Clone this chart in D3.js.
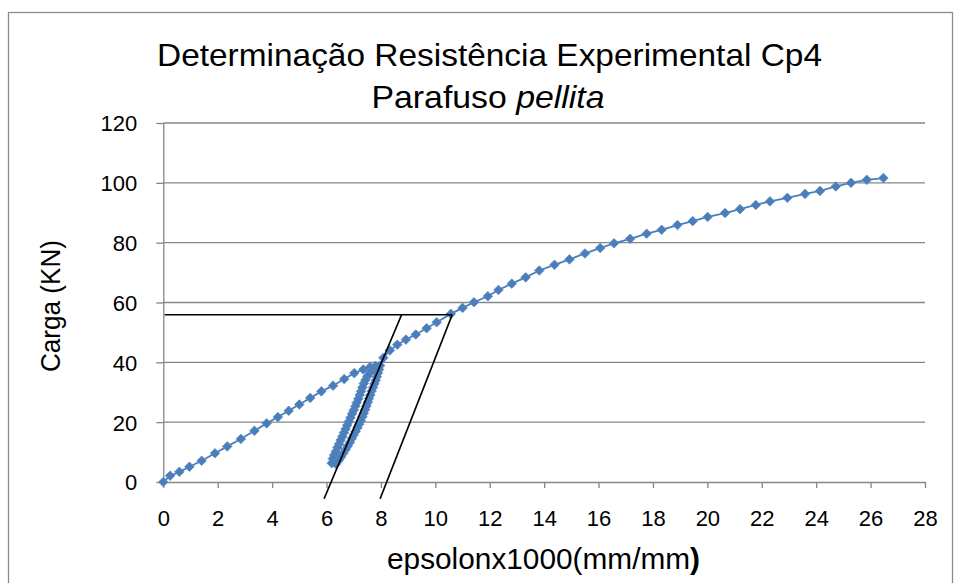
<!DOCTYPE html>
<html>
<head>
<meta charset="utf-8">
<script src="https://cdn.jsdelivr.net/npm/d3@7"></script>
<style>
  html, body { margin: 0; padding: 0; background: #fff; }
  svg { display: block; }
  text { font-family: "Liberation Sans", Arial, sans-serif; fill: #000; }
</style>
</head>
<body>
<svg id="chart" width="958" height="583"></svg>
<script>
// ---------- DATA ----------
const titleLine1 = "Determinação Resistência Experimental Cp4";
const titleLine2a = "Parafuso ";
const titleLine2b = "pellita";
const yAxisTitle = "Carga (KN)";
const xAxisTitleMain = "epsolonx1000(mm/mm";
const xAxisTitleEnd = ")";

const xTicks = [0, 2, 4, 6, 8, 10, 12, 14, 16, 18, 20, 22, 24, 26, 28];
const yTicks = [0, 20, 40, 60, 80, 100, 120];

// strain (x1000) readings, in recorded order: loading, unloading, reloading, loading to failure
const strainX = [
  0, 0.25, 0.59, 0.96, 1.41, 1.90, 2.35, 2.85, 3.35, 3.80, 4.21, 4.61, 5.00, 5.40, 5.81, 6.24, 6.65, 7.02, 7.35, 7.60, 7.80,
  7.70, 7.60, 7.50, 7.43, 7.37, 7.32, 7.27, 7.22, 7.17, 7.11, 7.06, 7.00, 6.94, 6.88, 6.82, 6.76, 6.70, 6.64, 6.58, 6.52, 6.46, 6.40, 6.34, 6.28, 6.23, 6.19,
  6.35, 6.45, 6.54, 6.62, 6.70, 6.78, 6.86, 6.93, 7.00, 7.07, 7.14, 7.20, 7.26, 7.32, 7.37, 7.42, 7.47, 7.52, 7.56, 7.61, 7.66, 7.71, 7.76, 7.81, 7.85, 7.89, 7.93, 7.97,
  8.09, 8.33, 8.60, 8.92, 9.28, 9.68, 10.05, 10.57, 11.00, 11.42, 11.93, 12.32, 12.81, 13.32, 13.82, 14.38, 14.93, 15.50, 16.06, 16.57, 17.16, 17.77, 18.32, 18.90, 19.46, 20.01, 20.65, 21.20, 21.78, 22.30, 22.94, 23.59, 24.14, 24.72, 25.28, 25.86, 26.47
];
// load (kN) readings matching strainX
const loadY = [
  0, 2.1, 3.4, 5.1, 7.1, 9.6, 11.9, 14.4, 17.1, 19.6, 21.7, 23.8, 25.9, 28.1, 30.3, 32.2, 34.4, 36.4, 37.6, 38.4, 38.8,
  37.7, 36.5, 35.3, 34.1, 32.9, 31.6, 30.3, 29.1, 27.8, 26.5, 25.3, 24.0, 22.8, 21.5, 20.2, 19.0, 17.7, 16.5, 15.2, 14.0, 12.7, 11.5, 10.2, 9.0, 7.8, 6.3,
  6.0, 7.2, 8.4, 9.6, 10.8, 12.0, 13.2, 14.5, 15.7, 16.9, 18.1, 19.3, 20.5, 21.8, 23.0, 24.2, 25.4, 26.7, 27.9, 29.1, 30.4, 31.6, 32.8, 34.0, 35.2, 36.4, 37.6, 38.9,
  41.5, 44.0, 45.9, 47.6, 49.3, 51.4, 53.4, 56.2, 58.2, 60.1, 62.1, 64.2, 66.3, 68.4, 70.7, 72.6, 74.4, 76.4, 78.2, 79.8, 81.3, 83.0, 84.3, 85.9, 87.2, 88.6, 89.9, 91.2, 92.6, 93.8, 95.0, 96.3, 97.3, 98.8, 100.0, 101.0, 101.6
];

// construction lines (black)
const hLineX = [0.05, 10.62];
const hLineY = [55.9, 55.9];
const slopeAX = [5.91, 8.76];
const slopeAY = [-5.6, 55.9];
const slopeBX = [7.97, 10.62];
const slopeBY = [-5.6, 55.9];

// ---------- DRAW ----------
const svg = d3.select("#chart");
const blue = "#4a7ebb";
const gridColor = "#868686";

// outer frame
svg.append("rect")
  .attr("x", 8.5).attr("y", 12.5)
  .attr("width", 944).attr("height", 620)
  .attr("fill", "#fff")
  .attr("stroke", "#8c8c8c").attr("stroke-width", 1.3);

const x = d3.scaleLinear().domain([0, 28]).range([163.3, 925]);
const y = d3.scaleLinear().domain([0, 120]).range([482, 123]);

// horizontal gridlines
svg.append("g").selectAll("line")
  .data(yTicks.filter(d => d !== 0))
  .join("line")
  .attr("x1", x(0)).attr("x2", x(28))
  .attr("y1", d => y(d)).attr("y2", d => y(d))
  .attr("stroke", gridColor).attr("stroke-width", 1.3);

// x axis
const xAxis = svg.append("g")
  .attr("transform", `translate(0,${y(0)})`)
  .call(d3.axisBottom(x).tickValues(xTicks).tickSize(6).tickSizeOuter(0).tickFormat(d3.format("d")));
xAxis.select(".domain").attr("stroke", gridColor).attr("stroke-width", 1.3);
xAxis.selectAll(".tick line").attr("stroke", gridColor).attr("stroke-width", 1.3);
xAxis.selectAll(".tick text")
  .attr("y", 44).attr("dy", null)
  .style("font-family", "'Liberation Sans', Arial, sans-serif")
  .style("font-size", "22px").attr("fill", "#000");

// y axis
const yAxis = svg.append("g")
  .attr("transform", `translate(${x(0)},0)`)
  .call(d3.axisLeft(y).tickValues(yTicks).tickSize(7).tickSizeOuter(0).tickFormat(d3.format("d")));
yAxis.select(".domain").attr("stroke", gridColor).attr("stroke-width", 1.3);
yAxis.selectAll(".tick line").attr("stroke", gridColor).attr("stroke-width", 1.3);
yAxis.selectAll(".tick text")
  .attr("x", -26).attr("dy", "0.36em")
  .style("font-family", "'Liberation Sans', Arial, sans-serif")
  .style("font-size", "22px").attr("fill", "#000");

// series line
const pts = strainX.map((v, i) => [v, loadY[i]]);
svg.append("path")
  .datum(pts)
  .attr("fill", "none")
  .attr("stroke", blue)
  .attr("stroke-width", 1.8)
  .attr("d", d3.line().x(d => x(d[0])).y(d => y(d[1])));

// markers (diamonds)
const diamond = d3.symbol().type(d3.symbolSquare).size(46);
svg.append("g").selectAll("path")
  .data(pts)
  .join("path")
  .attr("d", diamond)
  .attr("transform", d => `translate(${x(d[0])},${y(d[1])}) rotate(45)`)
  .attr("fill", blue)
  .attr("stroke", "#5b8ac4")
  .attr("stroke-width", 0.7);

// construction lines
const lineGen = d3.line().x(d => x(d[0])).y(d => y(d[1]));
[[hLineX, hLineY], [slopeAX, slopeAY], [slopeBX, slopeBY]].forEach(([xs, ys]) => {
  svg.append("path")
    .datum(xs.map((v, i) => [v, ys[i]]))
    .attr("fill", "none")
    .attr("stroke", "#000")
    .attr("stroke-width", 1.7)
    .attr("d", lineGen);
});

// titles
svg.append("text")
  .attr("x", 489.5).attr("y", 66)
  .attr("text-anchor", "middle")
  .attr("textLength", 665).attr("lengthAdjust", "spacingAndGlyphs")
  .style("font-size", "32px")
  .text(titleLine1);

const t2 = svg.append("text")
  .attr("x", 488).attr("y", 108)
  .attr("text-anchor", "middle")
  .attr("textLength", 233).attr("lengthAdjust", "spacingAndGlyphs")
  .style("font-size", "32px");
t2.append("tspan").text(titleLine2a);
t2.append("tspan").style("font-style", "italic").text(titleLine2b);

// y axis title
svg.append("text")
  .attr("transform", "translate(60,306) rotate(-90)")
  .attr("text-anchor", "middle")
  .attr("textLength", 132).attr("lengthAdjust", "spacingAndGlyphs")
  .style("font-size", "28px")
  .text(yAxisTitle);

// x axis title
const xt = svg.append("text")
  .attr("x", 543.5).attr("y", 569)
  .attr("text-anchor", "middle")
  .attr("textLength", 313).attr("lengthAdjust", "spacingAndGlyphs")
  .style("font-size", "29px");
xt.append("tspan").text(xAxisTitleMain);
xt.append("tspan").style("font-weight", "bold").text(xAxisTitleEnd);
</script>
</body>
</html>
